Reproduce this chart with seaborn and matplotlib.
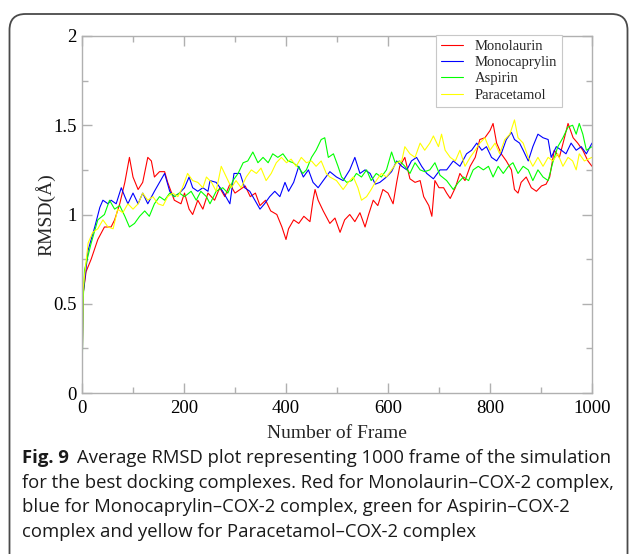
import numpy as np
import pandas as pd
import matplotlib
matplotlib.use("Agg")
import matplotlib.pyplot as plt
import seaborn as sns
from matplotlib.patches import FancyBboxPatch
from matplotlib.transforms import IdentityTransform
from matplotlib.ticker import MultipleLocator

# ---------------- data ----------------
compounds = ["Monolaurin", "Monocaprylin", "Aspirin", "Paracetamol"]
colors = ["#ff0000", "#0000ff", "#00ff00", "#ffff00"]

monolaurin_frame = [0, 2, 8, 18, 31, 44, 57, 64, 74, 84, 93, 100, 110, 119, 129, 136, 142, 152, 162, 168,
                    181, 194, 201, 210, 217, 227, 237, 247, 260, 270, 280, 290, 300, 310, 320, 330, 340,
                    349, 360, 370, 382, 392, 400, 405, 415, 425, 435, 447, 453, 457, 463, 473, 486, 496,
                    506, 515, 525, 535, 545, 555, 562, 571, 580, 590, 600, 610, 617, 623, 633, 643, 653,
                    663, 670, 680, 686, 692, 700, 709, 715, 722, 732, 741, 751, 761, 771, 780, 790, 800,
                    806, 813, 822, 832, 842, 848, 855, 861, 871, 881, 891, 901, 910, 917, 926, 936, 946,
                    953, 963, 972, 982, 992, 1000]
monolaurin_rmsd = [0.0, 0.55, 0.68, 0.75, 0.86, 0.93, 0.93, 0.97, 1.06, 1.18, 1.32, 1.21, 1.14, 1.18, 1.32,
                   1.30, 1.21, 1.24, 1.24, 1.18, 1.08, 1.06, 1.12, 1.03, 1.00, 1.08, 1.03, 1.12, 1.08, 1.15,
                   1.10, 1.17, 1.12, 1.14, 1.16, 1.10, 1.12, 1.05, 1.08, 1.02, 1.00, 0.93, 0.86, 0.92, 0.97,
                   0.95, 0.99, 0.96, 1.08, 1.14, 1.08, 1.02, 0.95, 0.98, 0.90, 0.97, 1.00, 0.96, 1.01, 0.93,
                   1.00, 1.08, 1.05, 1.14, 1.12, 1.06, 1.18, 1.27, 1.32, 1.20, 1.18, 1.19, 1.10, 1.05, 0.99,
                   1.19, 1.15, 1.15, 1.12, 1.09, 1.15, 1.23, 1.19, 1.27, 1.32, 1.42, 1.43, 1.47, 1.51, 1.40,
                   1.34, 1.30, 1.25, 1.14, 1.12, 1.18, 1.21, 1.15, 1.13, 1.16, 1.17, 1.21, 1.36, 1.32, 1.43,
                   1.51, 1.43, 1.40, 1.36, 1.30, 1.27]

monocaprylin_frame = [0, 2, 12, 25, 35, 41, 51, 57, 67, 77, 84, 90, 100, 110, 119, 129, 142, 152, 162, 172,
                      181, 191, 201, 210, 217, 227, 237, 247, 251, 263, 276, 290, 298, 310, 319, 329, 339,
                      349, 358, 368, 378, 388, 398, 405, 415, 425, 434, 444, 453, 463, 473, 486, 499, 512,
                      525, 535, 545, 555, 565, 575, 584, 597, 607, 617, 627, 637, 646, 656, 666, 676, 689,
                      702, 715, 728, 741, 754, 764, 774, 784, 793, 803, 813, 822, 832, 842, 848, 858, 865,
                      875, 884, 894, 904, 914, 920, 930, 940, 949, 959, 969, 979, 989, 1000]
monocaprylin_rmsd = [0.0, 0.55, 0.80, 0.93, 1.04, 1.08, 1.06, 1.08, 1.06, 1.15, 1.10, 1.06, 1.12, 1.06, 1.12,
                     1.06, 1.13, 1.18, 1.23, 1.13, 1.10, 1.12, 1.15, 1.21, 1.15, 1.13, 1.15, 1.13, 1.19, 1.18,
                     1.13, 1.06, 1.23, 1.23, 1.15, 1.13, 1.08, 1.03, 1.06, 1.10, 1.13, 1.10, 1.18, 1.13, 1.18,
                     1.27, 1.21, 1.25, 1.18, 1.15, 1.19, 1.24, 1.21, 1.19, 1.25, 1.32, 1.23, 1.25, 1.23, 1.17,
                     1.18, 1.21, 1.24, 1.30, 1.27, 1.25, 1.30, 1.32, 1.27, 1.23, 1.20, 1.25, 1.25, 1.30, 1.27,
                     1.34, 1.36, 1.40, 1.36, 1.38, 1.32, 1.30, 1.34, 1.42, 1.46, 1.42, 1.40, 1.36, 1.30, 1.38,
                     1.45, 1.43, 1.42, 1.32, 1.38, 1.36, 1.34, 1.40, 1.36, 1.38, 1.34, 1.40]

aspirin_frame = [0, 2, 5, 18, 31, 44, 54, 64, 74, 84, 93, 103, 113, 123, 132, 142, 152, 162, 172, 181, 191,
                 201, 214, 224, 233, 244, 251, 263, 276, 286, 296, 306, 316, 325, 335, 345, 355, 365, 374,
                 384, 394, 404, 414, 423, 433, 440, 450, 459, 469, 476, 483, 493, 502, 509, 519, 529, 538,
                 548, 558, 567, 577, 587, 597, 607, 614, 623, 633, 643, 653, 663, 672, 682, 692, 702, 715,
                 728, 738, 748, 758, 767, 777, 787, 797, 806, 816, 826, 836, 845, 855, 865, 875, 884, 894,
                 904, 914, 923, 933, 943, 953, 962, 969, 975, 982, 989, 1000]
aspirin_rmsd = [0.0, 0.50, 0.69, 0.84, 0.97, 1.00, 1.08, 1.03, 1.05, 0.99, 0.93, 0.95, 0.99, 1.02, 0.99,
                1.06, 1.10, 1.08, 1.12, 1.10, 1.12, 1.10, 1.13, 1.08, 1.13, 1.10, 1.06, 1.13, 1.15, 1.12,
                1.19, 1.23, 1.29, 1.30, 1.35, 1.29, 1.32, 1.29, 1.34, 1.32, 1.34, 1.30, 1.29, 1.27, 1.23,
                1.25, 1.32, 1.36, 1.42, 1.43, 1.32, 1.34, 1.27, 1.21, 1.18, 1.19, 1.23, 1.21, 1.25, 1.19,
                1.23, 1.21, 1.25, 1.35, 1.29, 1.30, 1.27, 1.23, 1.29, 1.25, 1.24, 1.25, 1.29, 1.22, 1.19,
                1.14, 1.18, 1.21, 1.19, 1.25, 1.27, 1.25, 1.27, 1.21, 1.27, 1.23, 1.27, 1.29, 1.23, 1.27,
                1.25, 1.19, 1.25, 1.21, 1.19, 1.29, 1.38, 1.43, 1.49, 1.50, 1.45, 1.51, 1.45, 1.36, 1.38]

paracetamol_frame = [0, 2, 12, 21, 31, 41, 51, 61, 70, 80, 90, 100, 110, 119, 129, 139, 149, 159, 168, 178,
                     188, 197, 207, 217, 227, 237, 244, 254, 263, 273, 283, 293, 302, 312, 322, 332, 342,
                     351, 361, 371, 381, 391, 401, 410, 420, 430, 440, 450, 459, 469, 479, 486, 499, 512,
                     522, 532, 541, 548, 558, 567, 577, 587, 597, 607, 617, 627, 633, 643, 653, 663, 672,
                     682, 689, 699, 705, 712, 722, 732, 741, 751, 761, 771, 780, 790, 800, 810, 819, 829,
                     839, 848, 855, 865, 875, 884, 894, 904, 914, 923, 933, 943, 953, 962, 969, 975, 985,
                     1000]
paracetamol_rmsd = [0.0, 0.58, 0.84, 0.90, 0.92, 0.97, 0.93, 0.92, 1.03, 1.01, 1.06, 1.03, 1.06, 1.12, 1.08,
                    1.10, 1.06, 1.05, 1.10, 1.12, 1.10, 1.15, 1.23, 1.19, 1.18, 1.15, 1.21, 1.18, 1.13, 1.27,
                    1.21, 1.15, 1.19, 1.15, 1.21, 1.25, 1.23, 1.26, 1.19, 1.23, 1.29, 1.32, 1.29, 1.31, 1.27,
                    1.32, 1.29, 1.30, 1.27, 1.30, 1.23, 1.21, 1.19, 1.14, 1.18, 1.21, 1.15, 1.08, 1.10, 1.14,
                    1.19, 1.23, 1.21, 1.25, 1.29, 1.30, 1.38, 1.34, 1.32, 1.40, 1.36, 1.40, 1.44, 1.38, 1.45,
                    1.36, 1.32, 1.30, 1.36, 1.27, 1.32, 1.36, 1.40, 1.43, 1.36, 1.40, 1.34, 1.42, 1.45, 1.53,
                    1.43, 1.40, 1.32, 1.27, 1.32, 1.27, 1.32, 1.30, 1.34, 1.27, 1.32, 1.30, 1.25, 1.34, 1.30,
                    1.32]

x_ticks = [0, 200, 400, 600, 800, 1000]
y_ticks = [0, 0.5, 1, 1.5, 2]
y_tick_labels = ["0", "0.5", "1", "1.5", "2"]

caption_bold = "Fig. 9"
caption_lines = [
    "Average RMSD plot representing 1000 frame of the simulation",
    "for the best docking complexes. Red for Monolaurin\u2013COX-2 complex,",
    "blue for Monocaprylin\u2013COX-2 complex, green for Aspirin\u2013COX-2",
    "complex and yellow for Paracetamol\u2013COX-2 complex",
]

# ---------------- build long table ----------------
frames_all = [monolaurin_frame, monocaprylin_frame, aspirin_frame, paracetamol_frame]
rmsd_all = [monolaurin_rmsd, monocaprylin_rmsd, aspirin_rmsd, paracetamol_rmsd]
df = pd.concat(
    [pd.DataFrame({"Frame": f, "RMSD": r, "Compound": c})
     for f, r, c in zip(frames_all, rmsd_all, compounds)],
    ignore_index=True,
)

# ---------------- style ----------------
sns.set_style("ticks")
plt.rcParams["font.family"] = ["Liberation Serif", "DejaVu Serif"]

W, H = 630, 554
fig = plt.figure(figsize=(W / 100, H / 100), dpi=100)
fig.patch.set_facecolor("white")

ax_left, ax_right, ax_top, ax_bottom = 82, 592, 36, 393
ax = fig.add_axes([ax_left / W, 1 - ax_bottom / H, (ax_right - ax_left) / W, (ax_bottom - ax_top) / H])

sns.lineplot(data=df, x="Frame", y="RMSD", hue="Compound", hue_order=compounds,
             palette=dict(zip(compounds, colors)), estimator=None, sort=True,
             linewidth=0.8, ax=ax)

ax.set_xlim(0, 1000)
ax.set_ylim(0, 2)
ax.set_xticks(x_ticks)
ax.set_yticks(y_ticks)
ax.set_yticklabels(y_tick_labels)
ax.xaxis.set_minor_locator(MultipleLocator(100))
ax.yaxis.set_minor_locator(MultipleLocator(0.25))

spine_col = "#b0b0b0"
for s in ax.spines.values():
    s.set_visible(True)
    s.set_color(spine_col)
    s.set_linewidth(1.0)
ax.tick_params(which="both", direction="in", top=True, right=True, color=spine_col,
               labelsize=13.5, labelcolor="black", width=1.0)
ax.tick_params(which="major", length=7)
ax.tick_params(which="minor", length=4)
ax.tick_params(axis="y", pad=4)
ax.tick_params(axis="x", pad=5)

ax.set_xlabel("Number of Frame", fontsize=14, labelpad=6)
ax.set_ylabel("RMSD(Å)", fontsize=14, labelpad=-2)

handles, labels = ax.get_legend_handles_labels()
leg = ax.legend(handles, labels, loc="upper right", bbox_to_anchor=(0.941, 1.003),
                fontsize=10.5, frameon=True, fancybox=False, framealpha=1,
                edgecolor="#c8c8c8", handlelength=1.5, handletextpad=0.8,
                labelspacing=0.2, borderpad=0.35, borderaxespad=0.0)
leg.get_frame().set_linewidth(0.8)

# ---------------- caption ----------------
cap_font = ["Open Sans", "DejaVu Sans"]
cap_size = 13.3
cap_x = 22 / W
line_y = [458, 483, 507, 532]
renderer = fig.canvas.get_renderer()
tb = fig.text(cap_x, 1 - line_y[0] / H, caption_bold, fontsize=cap_size, fontweight="bold",
              family=cap_font, va="center", ha="left", color="#1a1a1a")
bb = tb.get_window_extent(renderer=renderer)
fig.text((bb.x1 + 8) / W, 1 - line_y[0] / H, caption_lines[0], fontsize=cap_size,
         family=cap_font, va="center", ha="left", color="#1a1a1a")
for yy, txt in zip(line_y[1:], caption_lines[1:]):
    fig.text(cap_x, 1 - yy / H, txt, fontsize=cap_size, family=cap_font,
             va="center", ha="left", color="#1a1a1a")

# ---------------- rounded border ----------------
border = FancyBboxPatch((9.5, -40), 618, 540 + 40,
                        boxstyle="round,pad=0,rounding_size=16",
                        transform=IdentityTransform(), facecolor="none",
                        edgecolor="#4a4a4a", linewidth=1.3)
fig.add_artist(border)

fig.savefig("out.png", dpi=100, facecolor="white")
